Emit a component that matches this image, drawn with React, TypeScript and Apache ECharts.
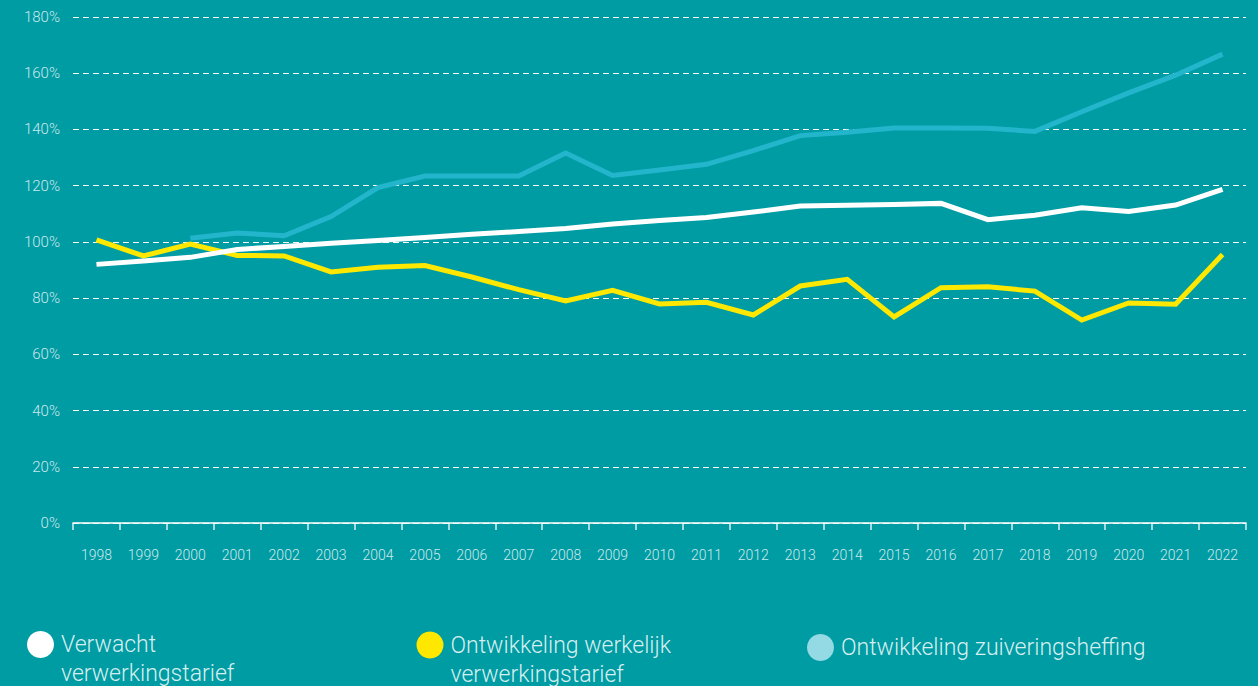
import React, { useEffect, useRef } from "react";
import * as echarts from "echarts";

const years = [
  "1998", "1999", "2000", "2001", "2002", "2003", "2004", "2005", "2006", "2007",
  "2008", "2009", "2010", "2011", "2012", "2013", "2014", "2015", "2016", "2017",
  "2018", "2019", "2020", "2021", "2022",
];

const verwacht = [
  92.0, 93.2, 94.5, 97.3, 98.4, 99.5, 100.5, 101.6, 102.7, 103.7,
  104.8, 106.4, 107.6, 108.7, 110.6, 112.8, 113.0, 113.3, 113.7, 107.9,
  109.5, 112.1, 110.8, 113.1, 118.7,
];

const werkelijk = [
  100.7, 95.0, 99.2, 95.2, 95.0, 89.3, 91.0, 91.6, 87.5, 83.0,
  79.0, 82.8, 77.9, 78.5, 74.0, 84.3, 86.7, 73.3, 83.7, 84.0,
  82.5, 72.2, 78.3, 77.8, 95.5,
];

const zuivering = [
  null, null, 101.3, 103.2, 102.2, 109.0, 119.3, 123.4, 123.4, 123.4,
  131.6, 123.6, 125.6, 127.6, 132.5, 137.8, 139.0, 140.5, 140.5, 140.4,
  139.3, 146.3, 153.0, 159.3, 166.8,
];

const nameVerwacht = "Verwacht verwerkingstarief";
const nameWerkelijk = "Ontwikkeling werkelijk verwerkingstarief";
const nameZuivering = "Ontwikkeling zuiveringsheffing";

// leading empty line keeps the first text line level with the legend dot
const legendLabels: Record<string, string> = {
  [nameVerwacht]: "\nVerwacht\nverwerkingstarief",
  [nameWerkelijk]: "\nOntwikkeling werkelijk\nverwerkingstarief",
  [nameZuivering]: "Ontwikkeling zuiveringsheffing",
};

const yTicks = { min: 0, max: 180, interval: 20 };

export default function App() {
  const ref = useRef<HTMLDivElement>(null);

  useEffect(() => {
    if (!ref.current) return;
    const chart = echarts.init(ref.current, null, { renderer: "svg" });
    const textColor = "rgba(255,255,255,0.8)";
    const font = "Roboto, 'Liberation Sans', sans-serif";
    const lh = 29;
    const legendBase = {
      orient: "horizontal",
      padding: 0,
      icon: "circle",
      itemWidth: 27,
      itemHeight: 27,
      selectedMode: false,
      formatter: (n: string) => legendLabels[n] || n,
    };
    const legendText = {
      color: "rgba(255,255,255,0.85)",
      fontSize: 23,
      fontWeight: 300,
      fontFamily: font,
      lineHeight: lh,
      padding: [0, 0, 0, 2],
    };
    chart.setOption({
      animation: false,
      backgroundColor: "#009CA4",
      grid: { left: 73, right: 12, top: 17, bottom: 163, containLabel: false },
      legend: [
        { ...legendBase, left: 27, top: 644.5 - lh * 1.5, data: [{ name: nameVerwacht, itemStyle: { color: "#ffffff" } }], textStyle: legendText },
        { ...legendBase, left: 416.5, top: 645 - lh * 1.5, data: [{ name: nameWerkelijk, itemStyle: { color: "#FFE800" } }], textStyle: legendText },
        { ...legendBase, left: 807, top: 647.5 - lh / 2, data: [{ name: nameZuivering, itemStyle: { color: "#93DAE4" } }], textStyle: legendText },
      ],
      xAxis: {
        type: "category",
        data: years,
        boundaryGap: true,
        axisLine: { show: true, lineStyle: { color: "#ffffff", width: 1.5 } },
        axisTick: { show: true, length: 7, lineStyle: { color: "rgba(255,255,255,0.85)", width: 1.5 } },
        axisLabel: { color: textColor, fontSize: 14, fontWeight: 300, fontFamily: font, margin: 25 },
        splitLine: { show: false },
      },
      yAxis: {
        type: "value",
        min: yTicks.min,
        max: yTicks.max,
        interval: yTicks.interval,
        axisLine: { show: false },
        axisTick: { show: false },
        axisLabel: {
          color: textColor,
          fontSize: 15,
          fontWeight: 300,
          fontFamily: font,
          margin: 13,
          formatter: "{value}%",
        },
        splitLine: { show: true, lineStyle: { color: "#ffffff", width: 1, type: [6, 4] } },
      },
      series: [
        {
          name: nameZuivering,
          type: "line",
          data: zuivering,
          symbol: "none",
          connectNulls: false,
          lineStyle: { color: "#22B5CB", width: 5, join: "miter", cap: "butt" },
          itemStyle: { color: "#93DAE4" },
        },
        {
          name: nameWerkelijk,
          type: "line",
          data: werkelijk,
          symbol: "none",
          lineStyle: { color: "#FFE800", width: 5, join: "miter", cap: "butt" },
          itemStyle: { color: "#FFE800" },
        },
        {
          name: nameVerwacht,
          type: "line",
          data: verwacht,
          symbol: "none",
          lineStyle: { color: "#ffffff", width: 5, join: "miter", cap: "butt" },
          itemStyle: { color: "#ffffff" },
        },
      ],
    });
    return () => chart.dispose();
  }, []);

  return (
    <div
      ref={ref}
      style={{ position: "fixed", left: 0, top: 0, width: 1258, height: 686 }}
    />
  );
}
